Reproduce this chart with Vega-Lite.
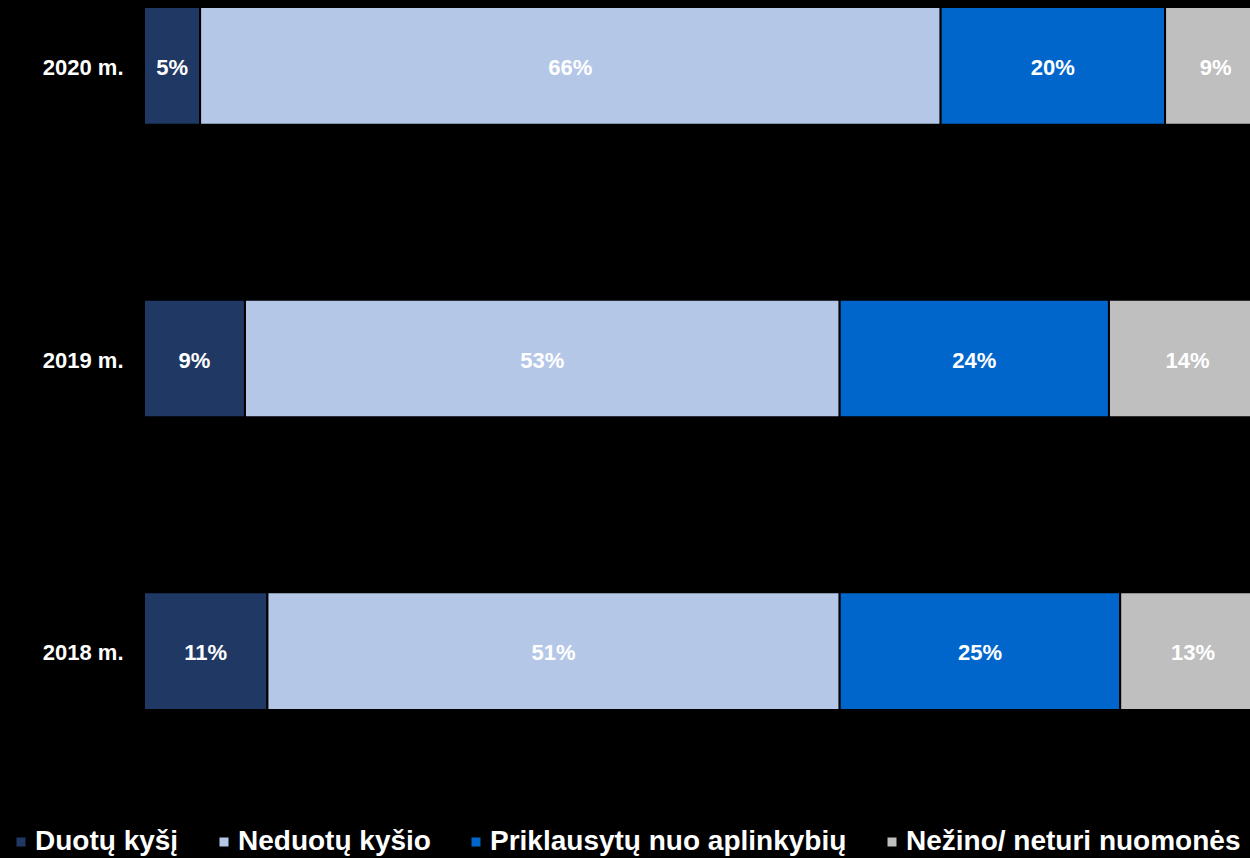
{
  "$schema": "https://vega.github.io/schema/vega-lite/v6.json",
  "autosize": "none",
  "width": 1106,
  "height": 717,
  "padding": {"left": 144, "top": 0, "right": 0, "bottom": 141},
  "background": "#000000",
  "config": {
    "view": {"stroke": null},
    "font": "Liberation Sans"
  },
  "data": {
    "values": [
      {"year": "2020 m.", "cat": "Duotų kyšį", "k": 1, "value": 5},
      {"year": "2020 m.", "cat": "Neduotų kyšio", "k": 2, "value": 66},
      {"year": "2020 m.", "cat": "Priklausytų nuo aplinkybių", "k": 3, "value": 20},
      {"year": "2020 m.", "cat": "Nežino/ neturi nuomonės", "k": 4, "value": 9},
      {"year": "2019 m.", "cat": "Duotų kyšį", "k": 1, "value": 9},
      {"year": "2019 m.", "cat": "Neduotų kyšio", "k": 2, "value": 53},
      {"year": "2019 m.", "cat": "Priklausytų nuo aplinkybių", "k": 3, "value": 24},
      {"year": "2019 m.", "cat": "Nežino/ neturi nuomonės", "k": 4, "value": 14},
      {"year": "2018 m.", "cat": "Duotų kyšį", "k": 1, "value": 11},
      {"year": "2018 m.", "cat": "Neduotų kyšio", "k": 2, "value": 51},
      {"year": "2018 m.", "cat": "Priklausytų nuo aplinkybių", "k": 3, "value": 25},
      {"year": "2018 m.", "cat": "Nežino/ neturi nuomonės", "k": 4, "value": 13}
    ]
  },
  "transform": [
    {"stack": "value", "groupby": ["year"], "sort": [{"field": "k", "order": "ascending"}], "as": ["x0", "x1"]},
    {"calculate": "(datum.x0 + datum.x1) / 2", "as": "mid"},
    {"calculate": "datum.value + '%'", "as": "label"}
  ],
  "encoding": {
    "y": {
      "field": "year",
      "type": "nominal",
      "sort": ["2020 m.", "2019 m.", "2018 m."],
      "scale": {"paddingInner": 0.598, "paddingOuter": 0.024},
      "axis": {
        "title": null,
        "domain": false,
        "ticks": false,
        "labelPadding": 21,
        "labelColor": "#ffffff",
        "labelFont": "Liberation Sans",
        "labelFontWeight": "bold",
        "labelFontSize": 22,
        "labelOffset": 2
      }
    }
  },
  "layer": [
    {
      "mark": {"type": "bar", "clip": true, "stroke": "#000000", "strokeWidth": 2},
      "encoding": {
        "x": {"field": "x0", "type": "quantitative", "scale": {"domain": [0, 98.57], "nice": false, "zero": true}, "axis": null},
        "x2": {"field": "x1"},
        "color": {
          "field": "cat",
          "type": "nominal",
          "sort": ["Duotų kyšį", "Neduotų kyšio", "Priklausytų nuo aplinkybių", "Nežino/ neturi nuomonės"],
          "scale": {
            "domain": ["Duotų kyšį", "Neduotų kyšio", "Priklausytų nuo aplinkybių", "Nežino/ neturi nuomonės"],
            "range": ["#203864", "#B4C7E7", "#0066CC", "#BFBFBF"]
          },
          "legend": {
            "orient": "none",
            "legendX": -137,
            "legendY": 828,
            "direction": "horizontal",
            "title": null,
            "padding": 0,
            "symbolType": "square",
            "symbolSize": 81,
            "symbolStrokeWidth": 0,
            "labelColor": "#ffffff",
            "labelFont": "Liberation Sans",
            "labelFontWeight": "bold",
            "labelFontSize": 28,
            "labelOffset": 0,
            "labelLimit": 600,
            "columnPadding": 31
          }
        }
      }
    },
    {
      "mark": {"type": "text", "color": "#ffffff", "font": "Liberation Sans", "fontWeight": "bold", "fontSize": 22, "align": "center", "baseline": "middle", "dy": 2},
      "encoding": {
        "x": {"field": "mid", "type": "quantitative"},
        "text": {"field": "label", "type": "nominal"},
        "detail": {"field": "cat"}
      }
    }
  ]
}
